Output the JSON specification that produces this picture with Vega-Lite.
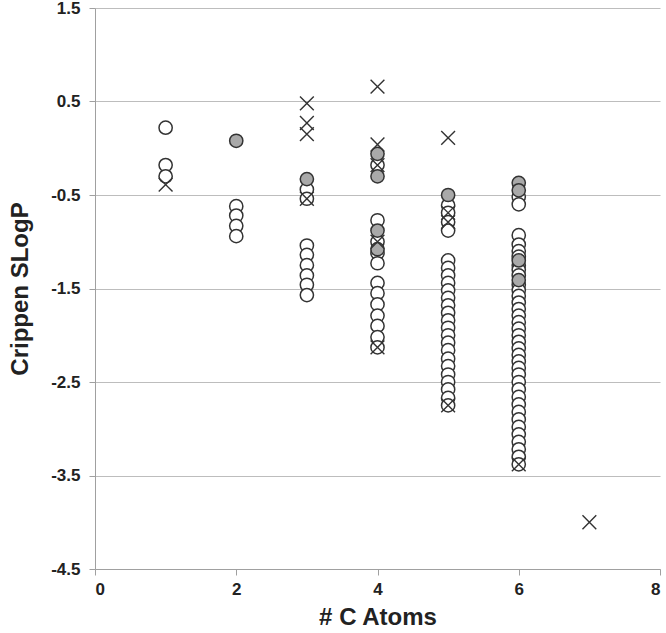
{
  "$schema": "https://vega.github.io/schema/vega-lite/v6.json",
  "width": 565,
  "height": 561,
  "autosize": {"type": "none"},
  "padding": {"left": 95, "top": 8, "right": 6, "bottom": 64},
  "background": "white",
  "config": {
    "view": {"stroke": null},
    "font": "Liberation Sans"
  },
  "data": {
    "values": [
      {"c":1,"v":0.22,"t":"open"},{"c":1,"v":-0.18,"t":"open"},{"c":1,"v":-0.30,"t":"open"},{"c":1,"v":-0.39,"t":"x"},
      {"c":2,"v":0.08,"t":"grey"},{"c":2,"v":-0.62,"t":"open"},{"c":2,"v":-0.72,"t":"open"},{"c":2,"v":-0.83,"t":"open"},{"c":2,"v":-0.94,"t":"open"},
      {"c":3,"v":0.48,"t":"x"},{"c":3,"v":0.27,"t":"x"},{"c":3,"v":0.15,"t":"x"},{"c":3,"v":-0.54,"t":"x"},
      {"c":3,"v":-0.33,"t":"grey"},{"c":3,"v":-0.44,"t":"open"},{"c":3,"v":-0.54,"t":"open"},
      {"c":3,"v":-1.04,"t":"open"},{"c":3,"v":-1.14,"t":"open"},{"c":3,"v":-1.25,"t":"open"},{"c":3,"v":-1.36,"t":"open"},{"c":3,"v":-1.46,"t":"open"},{"c":3,"v":-1.57,"t":"open"},
      {"c":4,"v":0.66,"t":"x"},{"c":4,"v":0.04,"t":"x"},{"c":4,"v":-0.18,"t":"x"},{"c":4,"v":-1.0,"t":"x"},{"c":4,"v":-2.13,"t":"x"},
      {"c":4,"v":-0.06,"t":"grey"},{"c":4,"v":-0.30,"t":"grey"},{"c":4,"v":-0.88,"t":"grey"},{"c":4,"v":-1.08,"t":"grey"},
      {"c":4,"v":-0.18,"t":"open"},{"c":4,"v":-0.77,"t":"open"},{"c":4,"v":-1.0,"t":"open"},{"c":4,"v":-1.12,"t":"open"},{"c":4,"v":-1.23,"t":"open"},
      {"c":4,"v":-1.44,"t":"open"},{"c":4,"v":-1.55,"t":"open"},{"c":4,"v":-1.67,"t":"open"},{"c":4,"v":-1.79,"t":"open"},{"c":4,"v":-1.90,"t":"open"},{"c":4,"v":-2.02,"t":"open"},{"c":4,"v":-2.13,"t":"open"},
      {"c":5,"v":0.11,"t":"x"},{"c":5,"v":-0.69,"t":"x"},{"c":5,"v":-0.79,"t":"x"},{"c":5,"v":-2.75,"t":"x"},
      {"c":5,"v":-0.50,"t":"grey"},
      {"c":5,"v":-0.61,"t":"open"},{"c":5,"v":-0.69,"t":"open"},{"c":5,"v":-0.79,"t":"open"},{"c":5,"v":-0.88,"t":"open"},
      {"c":5,"v":-1.20,"t":"open"},{"c":5,"v":-1.28,"t":"open"},{"c":5,"v":-1.36,"t":"open"},{"c":5,"v":-1.44,"t":"open"},{"c":5,"v":-1.52,"t":"open"},
      {"c":5,"v":-1.60,"t":"open"},{"c":5,"v":-1.68,"t":"open"},{"c":5,"v":-1.76,"t":"open"},{"c":5,"v":-1.84,"t":"open"},{"c":5,"v":-1.92,"t":"open"},
      {"c":5,"v":-2.00,"t":"open"},{"c":5,"v":-2.08,"t":"open"},{"c":5,"v":-2.16,"t":"open"},{"c":5,"v":-2.25,"t":"open"},{"c":5,"v":-2.33,"t":"open"},
      {"c":5,"v":-2.42,"t":"open"},{"c":5,"v":-2.50,"t":"open"},{"c":5,"v":-2.58,"t":"open"},{"c":5,"v":-2.67,"t":"open"},{"c":5,"v":-2.75,"t":"open"},
      {"c":6,"v":-0.37,"t":"grey"},{"c":6,"v":-0.45,"t":"grey"},{"c":6,"v":-1.20,"t":"grey"},{"c":6,"v":-1.41,"t":"grey"},
      {"c":6,"v":-0.52,"t":"open"},{"c":6,"v":-0.60,"t":"open"},{"c":6,"v":-0.93,"t":"open"},{"c":6,"v":-1.03,"t":"open"},{"c":6,"v":-1.10,"t":"open"},
      {"c":6,"v":-1.16,"t":"open"},{"c":6,"v":-1.25,"t":"open"},{"c":6,"v":-1.30,"t":"open"},{"c":6,"v":-1.36,"t":"open"},{"c":6,"v":-1.46,"t":"open"},
      {"c":6,"v":-1.52,"t":"open"},{"c":6,"v":-1.58,"t":"open"},{"c":6,"v":-1.65,"t":"open"},{"c":6,"v":-1.72,"t":"open"},{"c":6,"v":-1.79,"t":"open"},
      {"c":6,"v":-1.86,"t":"open"},{"c":6,"v":-1.93,"t":"open"},{"c":6,"v":-2.00,"t":"open"},{"c":6,"v":-2.07,"t":"open"},{"c":6,"v":-2.14,"t":"open"},
      {"c":6,"v":-2.21,"t":"open"},{"c":6,"v":-2.28,"t":"open"},{"c":6,"v":-2.35,"t":"open"},{"c":6,"v":-2.42,"t":"open"},{"c":6,"v":-2.50,"t":"open"},
      {"c":6,"v":-2.58,"t":"open"},{"c":6,"v":-2.66,"t":"open"},{"c":6,"v":-2.74,"t":"open"},{"c":6,"v":-2.82,"t":"open"},{"c":6,"v":-2.90,"t":"open"},
      {"c":6,"v":-2.98,"t":"open"},{"c":6,"v":-3.06,"t":"open"},{"c":6,"v":-3.14,"t":"open"},{"c":6,"v":-3.22,"t":"open"},{"c":6,"v":-3.30,"t":"open"},
      {"c":6,"v":-3.38,"t":"open"},{"c":6,"v":-3.38,"t":"x"},
      {"c":7,"v":-4.0,"t":"x"}
    ]
  },
  "encoding": {
    "x": {
      "field": "c", "type": "quantitative",
      "scale": {"domain": [0, 8], "nice": false, "zero": false},
      "axis": {
        "values": [0, 2, 4, 6, 8], "grid": false, "title": "# C Atoms",
        "domainColor": "#a0a0a0", "tickColor": "#a0a0a0", "tickSize": 6,
        "labelFont": "Liberation Sans", "labelFontWeight": "bold", "labelFontSize": 17, "labelColor": "#222",
        "labelPadding": 6,
        "titleFont": "Liberation Sans", "titleFontWeight": "bold", "titleFontSize": 24, "titleColor": "#222",
        "titlePadding": 8
      }
    },
    "y": {
      "field": "v", "type": "quantitative",
      "scale": {"domain": [-4.5, 1.5], "nice": false, "zero": false},
      "axis": {
        "values": [-4.5, -3.5, -2.5, -1.5, -0.5, 0.5, 1.5],
        "labelExpr": "datum.value < 0 ? '-' + format(abs(datum.value), '.1f') : format(datum.value, '.1f')",
        "grid": true, "gridColor": "#bdbdbd",
        "title": "Crippen SLogP",
        "domainColor": "#a0a0a0", "tickColor": "#a0a0a0", "tickSize": 6,
        "labelFont": "Liberation Sans", "labelFontWeight": "bold", "labelFontSize": 17, "labelColor": "#222",
        "labelPadding": 9,
        "titleFont": "Liberation Sans", "titleFontWeight": "bold", "titleFontSize": 24, "titleColor": "#222",
        "titlePadding": 18
      }
    }
  },
  "layer": [
    {
      "transform": [{"filter": "datum.t === 'open'"}],
      "mark": {"type": "point", "shape": "circle", "filled": true, "fill": "white", "stroke": "#333", "strokeWidth": 1.5, "size": 175, "opacity": 1}
    },
    {
      "transform": [{"filter": "datum.t === 'grey'"}],
      "mark": {"type": "point", "shape": "circle", "filled": true, "fill": "#a9a9a9", "stroke": "#333", "strokeWidth": 1.5, "size": 175, "opacity": 1}
    },
    {
      "transform": [{"filter": "datum.t === 'x'"}],
      "mark": {"type": "point", "shape": "M-1,-1L1,1M-1,1L1,-1", "filled": false, "stroke": "#333", "strokeWidth": 1.4, "size": 190, "opacity": 1}
    }
  ]
}
